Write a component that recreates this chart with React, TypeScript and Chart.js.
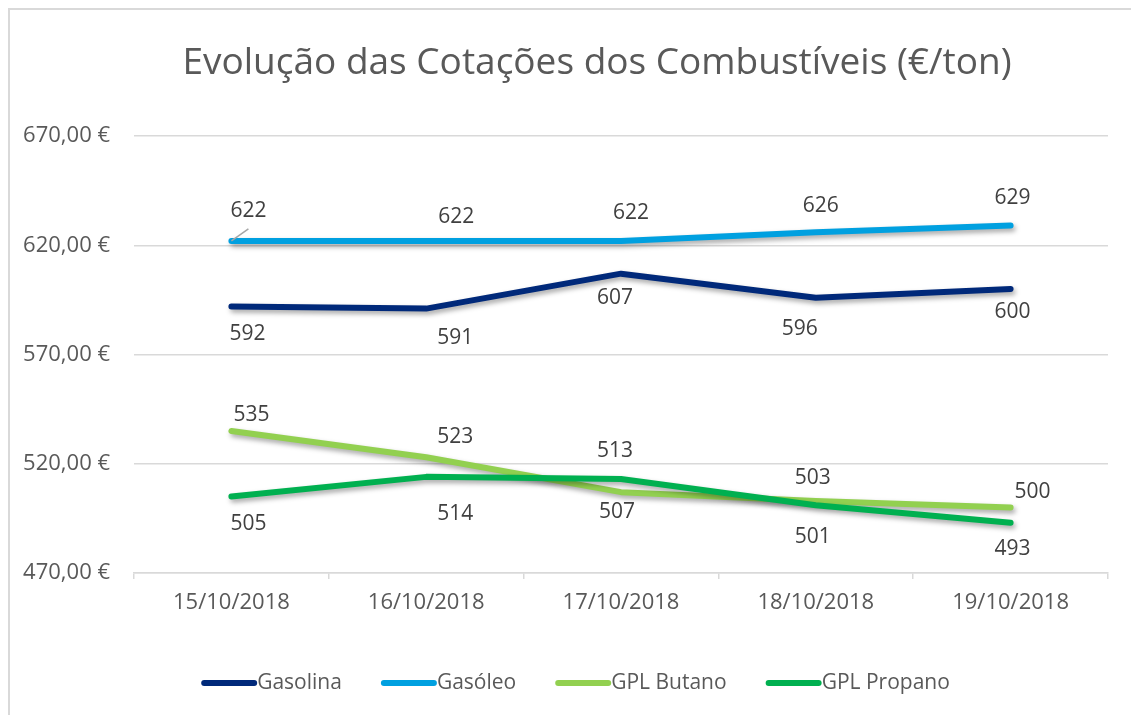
import React, { useEffect, useRef } from "react";
import { Chart, registerables } from "chart.js";

Chart.register(...registerables);

const categories = ["15/10/2018", "16/10/2018", "17/10/2018", "18/10/2018", "19/10/2018"];
const seriesNames = ["Gasolina", "Gasóleo", "GPL Butano", "GPL Propano"];
const gasolina = [592, 591, 607, 596, 600];
const gasoleo = [622, 622, 622, 626, 629];
const butano = [535, 523, 507, 503, 500];
const propano = [505, 514, 513, 501, 493];
const yMin = 470;
const yMax = 670;
const yStep = 50;
const titleText = "Evolução das Cotações dos Combustíveis (€/ton)";

const colors = ["#00297A", "#00A0E0", "#92D050", "#00B050"];

// label offsets relative to each point (style only)
const labelOffsets: [number, number][][] = [
  [[16, 28], [29, 29], [-6, 24], [-16, 31], [2, 23]],
  [[17, -30], [30, -24], [10, -28], [5, -26], [2, -28]],
  [[20, -16], [29, -20], [-4, 20], [-3, -23], [22, -15]],
  [[17, 27], [29, 37], [-6, -28], [-3, 32], [2, 26]],
];

const FONT = '"Open Sans", "Noto Sans", sans-serif';

const framePlugin = {
  id: "frame",
  beforeDraw(chart: any) {
    const ctx = chart.ctx;
    ctx.save();
    ctx.fillStyle = "#ffffff";
    ctx.fillRect(0, 0, chart.width, chart.height);
    ctx.strokeStyle = "#d9d9d9";
    ctx.lineWidth = 2;
    ctx.beginPath();
    ctx.moveTo(9, chart.height);
    ctx.lineTo(9, 9);
    ctx.lineTo(chart.width, 9);
    ctx.stroke();
    // title
    ctx.fillStyle = "#595959";
    ctx.font = `37px ${FONT}`;
    ctx.textAlign = "center";
    ctx.textBaseline = "alphabetic";
    ctx.fillText(titleText, 597, 74);
    ctx.restore();
  },
};

const shadowPlugin = {
  id: "lineShadow",
  beforeDatasetDraw(chart: any) {
    const ctx = chart.ctx;
    ctx.save();
    ctx.shadowColor = "rgba(0,0,0,0.35)";
    ctx.shadowBlur = 5;
    ctx.shadowOffsetX = 2;
    ctx.shadowOffsetY = 3;
  },
  afterDatasetDraw(chart: any) {
    chart.ctx.restore();
  },
};

const labelPlugin = {
  id: "dataLabels",
  afterDatasetsDraw(chart: any) {
    const ctx = chart.ctx;
    ctx.save();
    // leader line for first Gasóleo label
    const m1 = chart.getDatasetMeta(1);
    const p0 = m1.data[0];
    ctx.strokeStyle = "#a6a6a6";
    ctx.lineWidth = 1.5;
    ctx.beginPath();
    ctx.moveTo(p0.x, p0.y);
    ctx.lineTo(p0.x + 17, p0.y - 12);
    ctx.stroke();

    ctx.font = `21px ${FONT}`;
    ctx.fillStyle = "#404040";
    ctx.textAlign = "center";
    ctx.textBaseline = "middle";
    chart.data.datasets.forEach((ds: any, i: number) => {
      const meta = chart.getDatasetMeta(i);
      meta.data.forEach((pt: any, j: number) => {
        const [dx, dy] = labelOffsets[i][j];
        ctx.fillText(String(ds.data[j]), pt.x + dx, pt.y + dy);
      });
    });
    ctx.restore();
  },
};

const legendPlugin = {
  id: "customLegend",
  afterDraw(chart: any) {
    const ctx = chart.ctx;
    ctx.save();
    ctx.font = `21px ${FONT}`;
    const lineW = 56;
    const gap = 39;
    const items = chart.data.datasets.map((ds: any) => ({
      label: ds.label,
      color: ds.borderColor,
      w: lineW + ctx.measureText(ds.label).width,
    }));
    const total = items.reduce((s: number, it: any) => s + it.w, 0) + gap * (items.length - 1);
    let x = 575.5 - total / 2;
    const y = 683;
    items.forEach((it: any) => {
      ctx.strokeStyle = it.color;
      ctx.lineWidth = 6;
      ctx.lineCap = "round";
      ctx.beginPath();
      ctx.moveTo(x + 3, y);
      ctx.lineTo(x + lineW - 3, y);
      ctx.stroke();
      ctx.fillStyle = "#595959";
      ctx.textAlign = "left";
      ctx.textBaseline = "middle";
      ctx.fillText(it.label, x + lineW, y);
      x += it.w + gap;
    });
    ctx.restore();
  },
};

export default function App() {
  const ref = useRef<HTMLCanvasElement | null>(null);
  useEffect(() => {
    if (!ref.current) return;
    const values = [gasolina, gasoleo, butano, propano];
    const chart = new Chart(ref.current, {
      type: "line",
      data: {
        labels: categories,
        datasets: values.map((v, i) => ({
          label: seriesNames[i],
          data: v,
          borderColor: colors[i],
          backgroundColor: colors[i],
          borderWidth: 6,
          borderCapStyle: "round",
          borderJoinStyle: "round",
          pointRadius: 0,
          tension: 0,
          fill: false,
          order: 4 - i,
        })),
      },
      options: {
        responsive: false,
        animation: false,
        layout: { padding: { left: 0, right: 23, top: 136, bottom: 0 } },
        plugins: {
          legend: { display: false },
          title: { display: false },
          tooltip: { enabled: false },
        },
        scales: {
          x: {
            offset: true,
            grid: {
              display: true,
              offset: true,
              drawOnChartArea: false,
              drawTicks: true,
              tickLength: 6,
              color: "#d9d9d9",
              lineWidth: 1.5,
            },
            border: { display: true, color: "#d9d9d9", width: 1.5 },
            ticks: {
              color: "#595959",
              font: { family: FONT, size: 22 },
              padding: 11,
              maxRotation: 0,
            },
            afterFit(scale: any) {
              scale.height = 715 - 573;
            },
          },
          y: {
            min: yMin,
            max: yMax,
            grid: { color: "#d9d9d9", lineWidth: 1.5, drawTicks: false },
            border: { display: false },
            ticks: {
              stepSize: yStep,
              color: "#595959",
              font: { family: FONT, size: 22 },
              padding: 24,
              callback: (v: any) => Number(v).toFixed(2).replace(".", ",") + " €",
            },
            afterFit(scale: any) {
              scale.width = 134;
            },
          },
        },
      },
      plugins: [framePlugin, shadowPlugin, labelPlugin, legendPlugin],
    } as any);
    return () => chart.destroy();
  }, []);
  return (
    <div style={{ position: "fixed", left: 0, top: 0, width: 1131, height: 715 }}>
      <canvas ref={ref} width={1131} height={715} style={{ display: "block" }} />
    </div>
  );
}
